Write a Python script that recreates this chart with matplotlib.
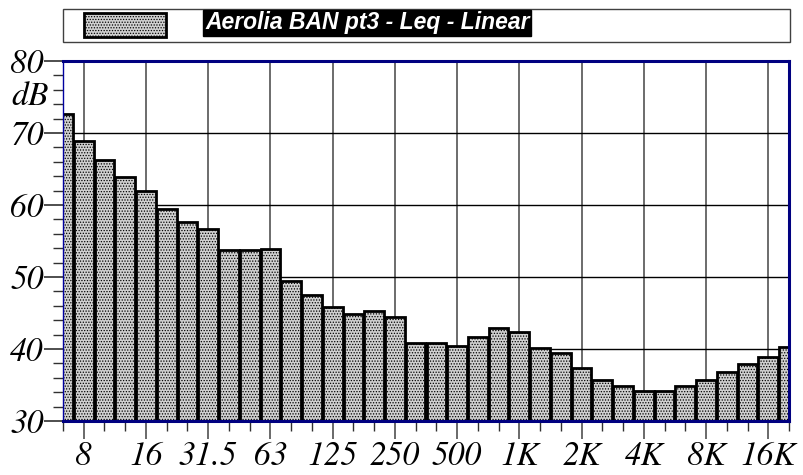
import numpy as np
import matplotlib
matplotlib.use('Agg')
from matplotlib import pyplot as plt
from matplotlib.patches import Rectangle

# third-octave bands, 6.3 Hz .. 20 kHz
bands = ['6.3', '8', '10', '12.5', '16', '20', '25', '31.5', '40', '50', '63', '80',
         '100', '125', '160', '200', '250', '315', '400', '500', '630', '800', '1K',
         '1.25K', '1.6K', '2K', '2.5K', '3.15K', '4K', '5K', '6.3K', '8K', '10K',
         '12.5K', '16K', '20K']
leq_db = [72.6, 68.9, 66.2, 63.9, 61.9, 59.5, 57.6, 56.6, 53.75, 53.7, 53.85, 49.5,
          47.5, 45.9, 44.9, 45.3, 44.5, 40.9, 40.8, 40.4, 41.7, 42.9, 42.3, 40.2,
          39.4, 37.3, 35.65, 34.8, 34.2, 34.2, 34.8, 35.7, 36.8, 37.9, 38.9, 40.3]
octave_labels = ['8', '16', '31.5', '63', '125', '250', '500', '1K', '2K', '4K', '8K', '16K']
series_name = 'Aerolia BAN pt3 - Leq - Linear'

plt.rcParams['font.family'] = ['FreeSerif', 'Liberation Serif', 'DejaVu Serif']
plt.rcParams['font.style'] = 'italic'
plt.rcParams['font.size'] = 24
plt.rcParams['hatch.color'] = '#8c8c8c'
plt.rcParams['hatch.linewidth'] = 0.6

fig = plt.figure(figsize=(8.04, 4.75), dpi=100)
ax = fig.add_axes([63 / 804, (475 - 421) / 475, (789 - 63) / 804, (421 - 61) / 475])

x = np.arange(len(bands))
ax.bar(x, leq_db, width=0.95, color='#d0d0d0', edgecolor='black', linewidth=2.0,
       hatch='......', zorder=2)

ax.set_xlim(0, len(bands) - 1)
ax.set_ylim(30, 80)

# octave ticks with labels, band ticks without
major_x = [bands.index(b) for b in octave_labels]
ax.set_xticks(major_x)
ax.set_xticklabels(octave_labels)
ax.set_xticks(x, minor=True)

ax.set_yticks([30, 40, 50, 60, 70, 80])
ax.set_yticks(np.arange(30, 81, 2), minor=True)

ax.tick_params(axis='x', which='major', length=13, width=1.2, color='#505050', pad=2,
               labelsize=24)
ax.tick_params(axis='x', which='minor', length=7, width=1.0, color='#303030')
ax.tick_params(axis='y', which='major', length=14, width=1.2, color='#303030', pad=0,
               labelsize=24)
ax.tick_params(axis='y', which='minor', length=7, width=1.0, color='#303030')

ax.text(-0.75, 75, 'dB', ha='right', va='center', fontsize=24)

ax.grid(True, axis='y', which='major', color='black', linewidth=1.0, zorder=1)
ax.grid(True, axis='x', which='major', color='#606060', linewidth=1.3, zorder=1)
ax.set_axisbelow(True)

for side in ['top', 'right', 'bottom']:
    ax.spines[side].set_color('#000080')
    ax.spines[side].set_linewidth(2.2)
    ax.spines[side].set_zorder(3)
ax.spines['left'].set_color('#0000a0')
ax.spines['left'].set_linewidth(1.0)
ax.spines['left'].set_zorder(3)

# legend strip above the plot
fig.patches.append(Rectangle((63 / 804, 1 - 42 / 475), (790 - 63) / 804, 33 / 475,
                             transform=fig.transFigure, facecolor='white',
                             edgecolor='#404040', linewidth=1.0))
fig.patches.append(Rectangle((84 / 804, 1 - 37 / 475), 82 / 804, 24 / 475,
                             transform=fig.transFigure, facecolor='#d0d0d0',
                             edgecolor='black', linewidth=2.0, hatch='......'))
fig.text(205 / 804, 1 - 23 / 475, series_name, ha='left', va='center',
         family='Liberation Sans', weight='bold', style='italic', size=16.5, color='white',
         bbox=dict(facecolor='black', edgecolor='black', boxstyle='square,pad=0.08'))

plt.savefig('out.png', dpi=100)
